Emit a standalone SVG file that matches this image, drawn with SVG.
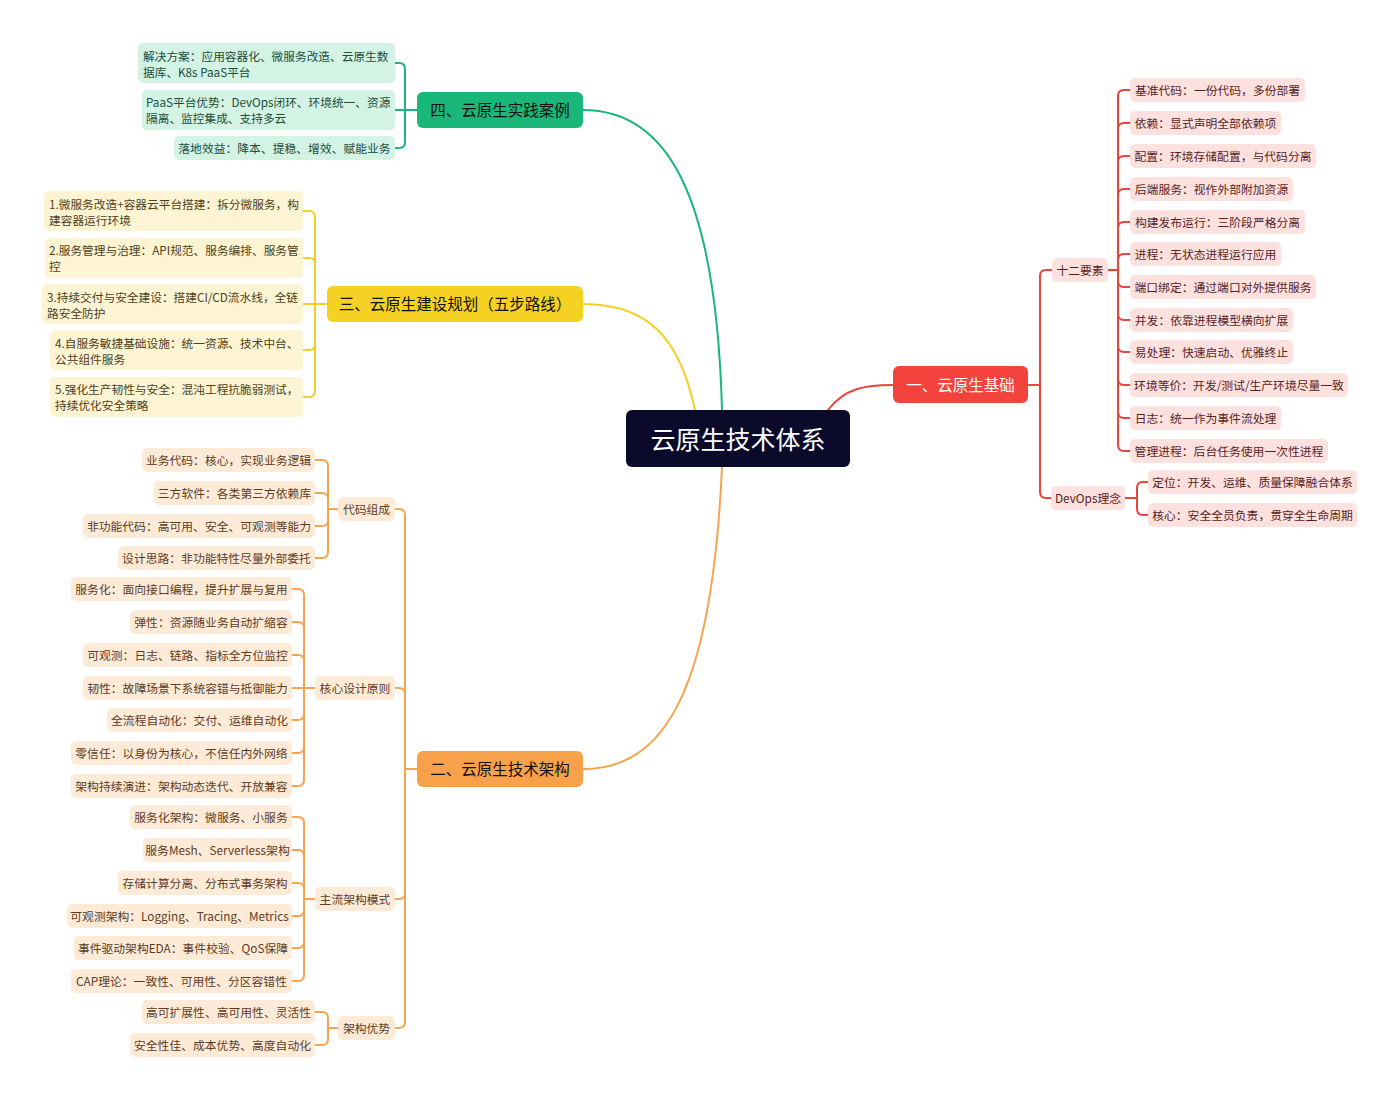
<svg xmlns="http://www.w3.org/2000/svg" width="1400" height="1100" viewBox="0 0 1400 1100">
<style>
text{font-family:"Noto Sans CJK SC","Noto Sans",sans-serif;dominant-baseline:central;transform:translate(0px,-1px)}
.leaf{font-size:11.8px;text-anchor:middle}
.ml{font-size:11.7px;text-anchor:start}
.main{font-size:15.5px;text-anchor:middle}
.con{fill:none;stroke-width:2;stroke-linecap:round;stroke-linejoin:round}
.r .box{fill:#fde1df}.r text{fill:#5a1e1e}
.g .box{fill:#d3f3e5}.g text{fill:#1d4d3b}
.y .box{fill:#fdf4d4}.y text{fill:#4d4119}
.o .box{fill:#fdebd8}.o text{fill:#5e3b1f}
.cr{stroke:#e8453c}.cg{stroke:#19b67b}.cy{stroke:#f3d027}.co{stroke:#f5a450}
</style>
<rect width="1400" height="1100" fill="#ffffff"/>
<g id="connectors">
<path class="con cg" d="M722,410 C716,190 665,110 583,110"/>
<path class="con cy" d="M695,410 C680,340 650,304 583,304"/>
<path class="con co" d="M722,467 C712,690 665,769 583,769"/>
<path class="con cr" d="M828,410 C845,388 865,385 893,385"/>
<g class="con cg">
<path d="M417,110 H405 V69 Q405,63 399,63 H395"/>
<path d="M417,110 H395"/>
<path d="M417,110 H405 V142 Q405,148 399,148 H395"/>
</g>
<g class="con cy">
<path d="M327,304 H315 V217 Q315,211 309,211 H303"/>
<path d="M327,304 H315 V264 Q315,258 309,258 H303"/>
<path d="M327,304 H303"/>
<path d="M327,304 H315 V344 Q315,350 309,350 H303"/>
<path d="M327,304 H315 V391 Q315,397 309,397 H303"/>
</g>
<g class="con co">
<path d="M417,769 H405 V515 Q405,509 399,509 H395"/>
<path d="M417,769 H405 V694 Q405,688 399,688 H395"/>
<path d="M417,769 H405 V893 Q405,899 399,899 H395"/>
<path d="M417,769 H405 V1022 Q405,1028 399,1028 H395"/>
<path d="M338,509 H328 V466 Q328,460 322,460 H315"/>
<path d="M338,509 H328 V499 Q328,493 322,493 H315"/>
<path d="M338,509 H328 V520 Q328,526 322,526 H315"/>
<path d="M338,509 H328 V552 Q328,558 322,558 H315"/>
<path d="M315,688 H304 V595 Q304,589 298,589 H292"/>
<path d="M315,688 H304 V628 Q304,622 298,622 H292"/>
<path d="M315,688 H304 V661 Q304,655 298,655 H292"/>
<path d="M315,688 H292"/>
<path d="M315,688 H304 V714 Q304,720 298,720 H292"/>
<path d="M315,688 H304 V747 Q304,753 298,753 H292"/>
<path d="M315,688 H304 V780 Q304,786 298,786 H292"/>
<path d="M315,899 H304 V823 Q304,817 298,817 H292"/>
<path d="M315,899 H304 V856 Q304,850 298,850 H292"/>
<path d="M315,899 H304 V889 Q304,883 298,883 H292"/>
<path d="M315,899 H304 V910 Q304,916 298,916 H292"/>
<path d="M315,899 H304 V942 Q304,948 298,948 H292"/>
<path d="M315,899 H304 V975 Q304,981 298,981 H292"/>
<path d="M338,1028 H328 V1018 Q328,1012 322,1012 H315"/>
<path d="M338,1028 H328 V1039 Q328,1045 322,1045 H315"/>
</g>
<g class="con cr">
<path d="M1028,385 H1040 V276 Q1040,270 1046,270 H1052"/>
<path d="M1028,385 H1040 V492 Q1040,498 1046,498 H1052"/>
<path d="M1108,270 H1118 V96 Q1118,90 1124,90 H1130"/>
<path d="M1108,270 H1118 V129 Q1118,123 1124,123 H1130"/>
<path d="M1108,270 H1118 V162 Q1118,156 1124,156 H1130"/>
<path d="M1108,270 H1118 V195 Q1118,189 1124,189 H1130"/>
<path d="M1108,270 H1118 V228 Q1118,222 1124,222 H1130"/>
<path d="M1108,270 H1118 V260 Q1118,254 1124,254 H1130"/>
<path d="M1108,270 H1118 V281 Q1118,287 1124,287 H1130"/>
<path d="M1108,270 H1118 V314 Q1118,320 1124,320 H1130"/>
<path d="M1108,270 H1118 V346 Q1118,352 1124,352 H1130"/>
<path d="M1108,270 H1118 V379 Q1118,385 1124,385 H1130"/>
<path d="M1108,270 H1118 V412 Q1118,418 1124,418 H1130"/>
<path d="M1108,270 H1118 V445 Q1118,451 1124,451 H1130"/>
<path d="M1125,498 H1137 V488 Q1137,482 1143,482 H1148"/>
<path d="M1125,498 H1137 V509 Q1137,515 1143,515 H1148"/>
</g>
</g>

<g id="root">
<rect x="626" y="410" width="224" height="57" rx="6" fill="#0b0a2a"/>
<text x="738" y="439" font-size="25" text-anchor="middle" fill="#ffffff">云原生技术体系</text>
</g>

<g id="branch-1" class="r">
<rect x="893" y="366" width="135" height="37" rx="6" fill="#f4433c"/>
<text class="main" x="960.5" y="385" style="fill:#ffffff">一、云原生基础</text>
</g>
<g id="sub-twelve" class="r"><rect class="box" x="1052" y="258" width="56" height="24" rx="5"/><text class="leaf" x="1080" y="270">十二要素</text></g>
<g id="sub-devops" class="r"><rect class="box" x="1051" y="486" width="74" height="24" rx="5"/><text class="leaf" x="1088" y="498">DevOps理念</text></g>
<g id="r1" class="r"><rect class="box" x="1130" y="78" width="175" height="24" rx="5"/><text class="leaf" x="1217.5" y="90">基准代码：一份代码，多份部署</text></g>
<g id="r2" class="r"><rect class="box" x="1130" y="111" width="151" height="24" rx="5"/><text class="leaf" x="1205.5" y="123">依赖：显式声明全部依赖项</text></g>
<g id="r3" class="r"><rect class="box" x="1130" y="144" width="186" height="24" rx="5"/><text class="leaf" x="1223" y="156">配置：环境存储配置，与代码分离</text></g>
<g id="r4" class="r"><rect class="box" x="1130" y="177" width="163" height="24" rx="5"/><text class="leaf" x="1211.5" y="189">后端服务：视作外部附加资源</text></g>
<g id="r5" class="r"><rect class="box" x="1130" y="210" width="175" height="24" rx="5"/><text class="leaf" x="1217.5" y="222">构建发布运行：三阶段严格分离</text></g>
<g id="r6" class="r"><rect class="box" x="1130" y="242" width="151" height="24" rx="5"/><text class="leaf" x="1205.5" y="254">进程：无状态进程运行应用</text></g>
<g id="r7" class="r"><rect class="box" x="1130" y="275" width="186" height="24" rx="5"/><text class="leaf" x="1223" y="287">端口绑定：通过端口对外提供服务</text></g>
<g id="r8" class="r"><rect class="box" x="1130" y="308" width="163" height="24" rx="5"/><text class="leaf" x="1211.5" y="320">并发：依靠进程模型横向扩展</text></g>
<g id="r9" class="r"><rect class="box" x="1130" y="340" width="163" height="24" rx="5"/><text class="leaf" x="1211.5" y="352">易处理：快速启动、优雅终止</text></g>
<g id="r10" class="r"><rect class="box" x="1130" y="373" width="218" height="24" rx="5"/><text class="leaf" x="1239" y="385">环境等价：开发/测试/生产环境尽量一致</text></g>
<g id="r11" class="r"><rect class="box" x="1130" y="406" width="151" height="24" rx="5"/><text class="leaf" x="1205.5" y="418">日志：统一作为事件流处理</text></g>
<g id="r12" class="r"><rect class="box" x="1130" y="439" width="198" height="24" rx="5"/><text class="leaf" x="1229" y="451">管理进程：后台任务使用一次性进程</text></g>
<g id="d1" class="r"><rect class="box" x="1148" y="470" width="209" height="24" rx="5"/><text class="leaf" x="1252.5" y="482">定位：开发、运维、质量保障融合体系</text></g>
<g id="d2" class="r"><rect class="box" x="1148" y="503" width="209" height="24" rx="5"/><text class="leaf" x="1252.5" y="515">核心：安全全员负责，贯穿全生命周期</text></g>

<g id="branch-4" class="g">
<rect x="417" y="92" width="166" height="36" rx="6" fill="#1ab77a"/>
<text class="main" x="500" y="110" style="fill:#111111">四、云原生实践案例</text>
</g>
<g id="g1" class="g"><rect class="box" x="138" y="43" width="257" height="40" rx="5"/><text class="ml" x="143" y="56">解决方案：应用容器化、微服务改造、云原生数</text><text class="ml" x="143" y="72">据库、K8s PaaS平台</text></g>
<g id="g2" class="g"><rect class="box" x="142" y="90" width="253" height="40" rx="5"/><text class="ml" x="146" y="102">PaaS平台优势：DevOps闭环、环境统一、资源</text><text class="ml" x="146" y="118">隔离、监控集成、支持多云</text></g>
<g id="g3" class="g"><rect class="box" x="174" y="136" width="221" height="24" rx="5"/><text class="leaf" x="284.5" y="148">落地效益：降本、提稳、增效、赋能业务</text></g>

<g id="branch-3" class="y">
<rect x="327" y="286" width="256" height="36" rx="6" fill="#f4d122"/>
<text class="main" x="455" y="304" style="fill:#111111">三、云原生建设规划（五步路线）</text>
</g>
<g id="y1" class="y"><rect class="box" x="44" y="191" width="259" height="40" rx="5"/><text class="ml" x="49" y="204">1.微服务改造+容器云平台搭建：拆分微服务，构</text><text class="ml" x="49" y="220">建容器运行环境</text></g>
<g id="y2" class="y"><rect class="box" x="45" y="238" width="258" height="40" rx="5"/><text class="ml" x="49" y="250">2.服务管理与治理：API规范、服务编排、服务管</text><text class="ml" x="49" y="266">控</text></g>
<g id="y3" class="y"><rect class="box" x="42" y="284" width="261" height="40" rx="5"/><text class="ml" x="47" y="297">3.持续交付与安全建设：搭建CI/CD流水线，全链</text><text class="ml" x="47" y="313">路安全防护</text></g>
<g id="y4" class="y"><rect class="box" x="50" y="330" width="253" height="40" rx="5"/><text class="ml" x="55" y="343">4.自服务敏捷基础设施：统一资源、技术中台、</text><text class="ml" x="55" y="359">公共组件服务</text></g>
<g id="y5" class="y"><rect class="box" x="50" y="377" width="253" height="40" rx="5"/><text class="ml" x="55" y="389">5.强化生产韧性与安全：混沌工程抗脆弱测试，</text><text class="ml" x="55" y="405">持续优化安全策略</text></g>

<g id="branch-2" class="o">
<rect x="417" y="751" width="166" height="36" rx="6" fill="#f7a24b"/>
<text class="main" x="500" y="769" style="fill:#111111">二、云原生技术架构</text>
</g>
<g id="sub-code" class="o"><rect class="box" x="338" y="497" width="57" height="24" rx="5"/><text class="leaf" x="366.5" y="509">代码组成</text></g>
<g id="sub-principle" class="o"><rect class="box" x="315" y="676" width="80" height="24" rx="5"/><text class="leaf" x="355" y="688">核心设计原则</text></g>
<g id="sub-pattern" class="o"><rect class="box" x="315" y="887" width="80" height="24" rx="5"/><text class="leaf" x="355" y="899">主流架构模式</text></g>
<g id="sub-adv" class="o"><rect class="box" x="338" y="1016" width="57" height="24" rx="5"/><text class="leaf" x="366.5" y="1028">架构优势</text></g>

<g id="o1" class="o"><rect class="box" x="142" y="448" width="173" height="24" rx="5"/><text class="leaf" x="228.5" y="460">业务代码：核心，实现业务逻辑</text></g>
<g id="o2" class="o"><rect class="box" x="154" y="481" width="161" height="24" rx="5"/><text class="leaf" x="234.5" y="493">三方软件：各类第三方依赖库</text></g>
<g id="o3" class="o"><rect class="box" x="83" y="514" width="232" height="24" rx="5"/><text class="leaf" x="199" y="526">非功能代码：高可用、安全、可观测等能力</text></g>
<g id="o4" class="o"><rect class="box" x="118" y="546" width="197" height="24" rx="5"/><text class="leaf" x="216.5" y="558">设计思路：非功能特性尽量外部委托</text></g>

<g id="p1" class="o"><rect class="box" x="71" y="577" width="221" height="24" rx="5"/><text class="leaf" x="181.5" y="589">服务化：面向接口编程，提升扩展与复用</text></g>
<g id="p2" class="o"><rect class="box" x="130" y="610" width="162" height="24" rx="5"/><text class="leaf" x="211" y="622">弹性：资源随业务自动扩缩容</text></g>
<g id="p3" class="o"><rect class="box" x="83" y="643" width="209" height="24" rx="5"/><text class="leaf" x="187.5" y="655">可观测：日志、链路、指标全方位监控</text></g>
<g id="p4" class="o"><rect class="box" x="83" y="676" width="209" height="24" rx="5"/><text class="leaf" x="187.5" y="688">韧性：故障场景下系统容错与抵御能力</text></g>
<g id="p5" class="o"><rect class="box" x="107" y="708" width="185" height="24" rx="5"/><text class="leaf" x="199.5" y="720">全流程自动化：交付、运维自动化</text></g>
<g id="p6" class="o"><rect class="box" x="71" y="741" width="221" height="24" rx="5"/><text class="leaf" x="181.5" y="753">零信任：以身份为核心，不信任内外网络</text></g>
<g id="p7" class="o"><rect class="box" x="71" y="774" width="221" height="24" rx="5"/><text class="leaf" x="181.5" y="786">架构持续演进：架构动态迭代、开放兼容</text></g>

<g id="m1" class="o"><rect class="box" x="130" y="805" width="162" height="24" rx="5"/><text class="leaf" x="211" y="817">服务化架构：微服务、小服务</text></g>
<g id="m2" class="o"><rect class="box" x="143" y="838" width="149" height="24" rx="5"/><text class="leaf" x="217.5" y="850">服务Mesh、Serverless架构</text></g>
<g id="m3" class="o"><rect class="box" x="118" y="871" width="174" height="24" rx="5"/><text class="leaf" x="205" y="883">存储计算分离、分布式事务架构</text></g>
<g id="m4" class="o"><rect class="box" x="67" y="904" width="225" height="24" rx="5"/><text class="leaf" x="179.5" y="916">可观测架构：Logging、Tracing、Metrics</text></g>
<g id="m5" class="o"><rect class="box" x="74" y="936" width="218" height="24" rx="5"/><text class="leaf" x="183" y="948">事件驱动架构EDA：事件校验、QoS保障</text></g>
<g id="m6" class="o"><rect class="box" x="71" y="969" width="221" height="24" rx="5"/><text class="leaf" x="181.5" y="981">CAP理论：一致性、可用性、分区容错性</text></g>

<g id="a1" class="o"><rect class="box" x="142" y="1000" width="173" height="24" rx="5"/><text class="leaf" x="228.5" y="1012">高可扩展性、高可用性、灵活性</text></g>
<g id="a2" class="o"><rect class="box" x="130" y="1033" width="185" height="24" rx="5"/><text class="leaf" x="222.5" y="1045">安全性佳、成本优势、高度自动化</text></g>
</svg>
